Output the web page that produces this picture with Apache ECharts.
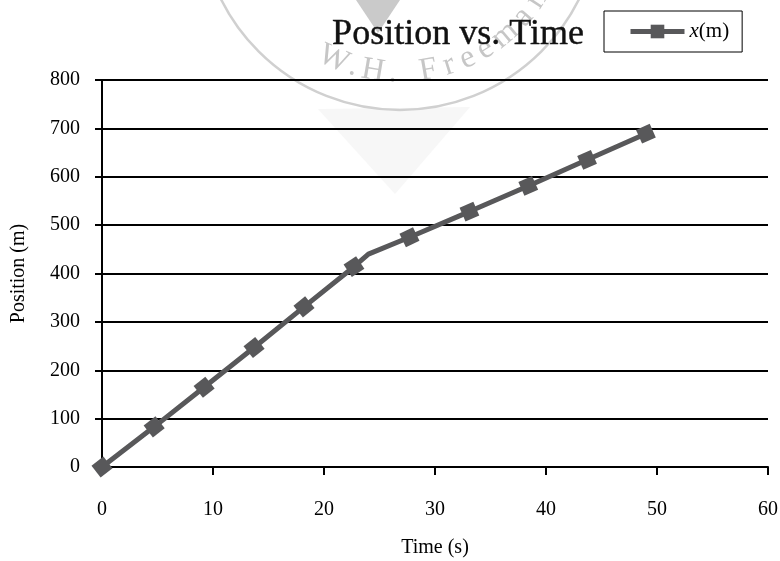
<!DOCTYPE html>
<html><head><meta charset="utf-8">
<script src="https://cdn.jsdelivr.net/npm/echarts@6/dist/echarts.min.js"></script>
<style>html,body{margin:0;padding:0;background:#fff}#c{width:780px;height:561px}</style>
</head><body><div id="c"></div>
<script>
// ---- data ----
const times = [0, 4.7, 9.2, 13.7, 18.2, 22.7, 27.7, 33.1, 38.4, 43.7, 49.0];
const positions = [0, 83, 165, 247, 331, 414, 475, 528, 581, 635, 689];
// unmarked bend in the drawn line (no marker at this point)
const bendPoint = [24.0, 440];
const xTickValues = [0, 10, 20, 30, 40, 50, 60];
const yTickValues = [0, 100, 200, 300, 400, 500, 600, 700, 800];
const titleText = 'Position vs. Time';
const seriesName = 'x(m)';
const xAxisTitle = 'Time (s)';
const yAxisTitle = 'Position (m)';
const watermarkText = 'W.H. Freeman';

const FONT = '"Liberation Serif","DejaVu Serif",serif';
const LINE_COLOR = '#58585a';

function buildData(rotations) {
  const pts = times.map((t, i) => ({ value: [t, positions[i]], marked: true }));
  pts.push({ value: bendPoint.slice(), marked: false });
  pts.sort((a, b) => a.value[0] - b.value[0]);
  let k = 0;
  return pts.map(p => {
    const item = { value: p.value };
    if (!p.marked) { item.symbol = 'none'; }
    else if (rotations) { item.symbolRotate = rotations[k]; }
    if (p.marked) k++;
    return item;
  });
}

// watermark graphics (decorative background seal)
function watermark() {
  const cx = 400, cy = -90, rText = 163;
  const els = [];
  els.push({ type: 'circle', shape: { cx: cx, cy: cy, r: 200 }, style: { fill: 'none', stroke: '#d0d0d0', lineWidth: 2.5 }, z: -10, silent: true });
  els.push({ type: 'polygon', shape: { points: [[318, 109], [470, 107], [395, 194]] }, style: { fill: '#f7f7f7' }, z: -11, silent: true });
  els.push({ type: 'polygon', shape: { points: [[356, 0], [400, 0], [378, 33]] }, style: { fill: '#cacaca' }, z: -10, silent: true });
  const chars = watermarkText.split('');
  const angles = [114, 106.5, 99.5, 92.5, 87, 80, 72.5, 65.5, 58.5, 50, 41, 33];
  chars.forEach((ch, i) => {
    const th = angles[i] * Math.PI / 180;
    els.push({
      type: 'text', x: cx + rText * Math.cos(th), y: cy + rText * Math.sin(th),
      rotation: Math.PI / 2 - th,
      style: { text: ch, font: '32px ' + FONT, fill: '#c6c6c6', align: 'center', verticalAlign: 'middle' },
      z: -10, silent: true
    });
  });
  return els;
}

const chart = echarts.init(document.getElementById('c'), null, { renderer: 'canvas' });

const option = {
  animation: false,
  backgroundColor: '#fff',
  graphic: watermark(),
  title: {
    text: titleText, left: 458, top: 17, textAlign: 'center', padding: 0,
    textStyle: { fontFamily: FONT, fontSize: 36, fontWeight: 'normal', color: '#111',
      textBorderColor: '#111', textBorderWidth: 0.4 }
  },
  legend: {
    left: 604, top: 11, padding: [10, 13, 10, 24],
    borderColor: '#000', borderWidth: 1, borderRadius: 0,
    itemWidth: 54, itemHeight: 17, itemGap: 0,
    data: [seriesName],
    lineStyle: { color: LINE_COLOR, width: 5 },
    itemStyle: { color: LINE_COLOR },
    formatter: () => '{i|x}{n|(m)}',
    textStyle: {
      fontFamily: FONT, fontSize: 21, color: '#000',
      rich: { i: { fontFamily: FONT, fontSize: 21, fontStyle: 'italic', color: '#000' }, n: { fontFamily: FONT, fontSize: 21, color: '#000' } }
    }
  },
  grid: { left: 102, right: 12, top: 80, bottom: 94, containLabel: false, outerBoundsMode: 'none' },
  xAxis: {
    type: 'value', min: xTickValues[0], max: xTickValues[xTickValues.length - 1], interval: 10,
    name: xAxisTitle, nameLocation: 'middle', nameGap: 71,
    nameTextStyle: { fontFamily: FONT, fontSize: 20, color: '#000' },
    axisLine: { show: true, onZero: false, lineStyle: { color: '#000', width: 2 } },
    axisTick: { show: true, inside: false, length: 8, lineStyle: { color: '#000', width: 2 } },
    axisLabel: { margin: 33, fontFamily: FONT, fontSize: 20, color: '#000', lineHeight: 20 },
    splitLine: { show: false }
  },
  yAxis: {
    type: 'value', min: yTickValues[0], max: yTickValues[yTickValues.length - 1], interval: 100,
    name: yAxisTitle, nameLocation: 'middle', nameGap: 73,
    nameTextStyle: { fontFamily: FONT, fontSize: 20, color: '#000' },
    axisLine: { show: true, lineStyle: { color: '#000', width: 2 } },
    axisTick: { show: true, inside: false, length: 7, lineStyle: { color: '#000', width: 2 } },
    axisLabel: { margin: 22, fontFamily: FONT, fontSize: 20, color: '#000' },
    splitLine: { show: true, lineStyle: { color: '#000', width: 2 } }
  },
  series: [{
    name: seriesName, type: 'line', data: buildData(null),
    symbol: 'rect', symbolSize: 15, showAllSymbol: true,
    lineStyle: { color: LINE_COLOR, width: 5 },
    itemStyle: { color: LINE_COLOR },
    z: 3
  }]
};
chart.setOption(option);

// rotate each square marker to follow the drawn line direction
const px = times.map((t, i) => chart.convertToPixel({ gridIndex: 0 }, [t, positions[i]]));
const rot = px.map((p, i) => {
  const a = px[Math.max(0, i - 1)], b = px[Math.min(px.length - 1, i + 1)];
  return Math.atan2(-(b[1] - a[1]), b[0] - a[0]) * 180 / Math.PI;
});
chart.setOption({ series: [{ data: buildData(rot) }] });
</script>
</body></html>
